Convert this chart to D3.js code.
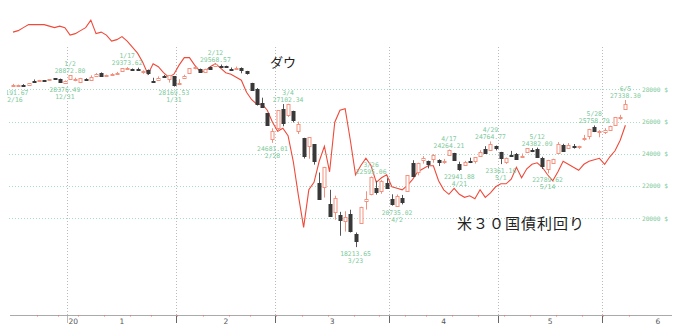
<!DOCTYPE html>
<meta charset="utf-8">
<style>
  body { margin: 0; background: #fff; }
  .note { font-family: "DejaVu Sans Mono", "Liberation Mono", monospace; font-size: 6.4px; fill: #7cc99a; }
  .ylab { font-family: "DejaVu Sans Mono", "Liberation Mono", monospace; font-size: 6.2px; fill: #7cc99a; }
  .mlab { font-family: "DejaVu Sans", sans-serif; font-size: 7.5px; fill: #555; }
  .title { font-family: "Noto Sans CJK JP", sans-serif; fill: #222; }
</style>
<body>
<script src="https://cdn.jsdelivr.net/npm/d3@7"></script>
<script>
// trading days 2019/12/16 - 2020/6/5
var dates = [
  "12/16","12/17","12/18","12/19","12/20","12/23","12/24","12/26","12/27","12/30","12/31",
  "1/2","1/3","1/6","1/7","1/8","1/9","1/10","1/13","1/14","1/15","1/16","1/17","1/21","1/22","1/23","1/24","1/27","1/28","1/29","1/30","1/31",
  "2/3","2/4","2/5","2/6","2/7","2/10","2/11","2/12","2/13","2/14","2/18","2/19","2/20","2/21","2/24","2/25","2/26","2/27","2/28",
  "3/2","3/3","3/4","3/5","3/6","3/9","3/10","3/11","3/12","3/13","3/16","3/17","3/18","3/19","3/20","3/23","3/24","3/25","3/26","3/27","3/30","3/31",
  "4/1","4/2","4/3","4/6","4/7","4/8","4/9","4/13","4/14","4/15","4/16","4/17","4/20","4/21","4/22","4/23","4/24","4/27","4/28","4/29","4/30",
  "5/1","5/4","5/5","5/6","5/7","5/8","5/11","5/12","5/13","5/14","5/15","5/18","5/19","5/20","5/21","5/22","5/26","5/27","5/28","5/29",
  "6/1","6/2","6/3","6/4","6/5"
];

var open = [
  28191.67,28240.09,28283.63,28247.77,28488.71,28491.78,28572.57,28539.46,28675.34,28654.76,28414.64,
  28638.97,28553.33,28465.50,28639.18,28556.14,28851.48,29018.30,28852.19,28885.29,28939.67,29125.64,29313.31,29263.59,29251.36,29099.70,29198.92,28542.49,28598.74,28820.01,28640.16,28813.04,
  28319.65,28696.45,28990.34,29315.04,29286.92,29060.16,29390.74,29406.75,29450.85,29440.47,29279.43,29306.72,29347.24,29144.56,28402.93,28028.51,27174.77,26526.26,24902.21,
  25590.51,26762.47,26383.68,26671.92,25457.21,24992.36,24453.00,24604.63,22184.71,21973.82,20917.53,20345.92,20222.00,19830.00,20253.24,19028.36,19722.19,21050.34,21468.38,21898.47,21678.22,22208.42,
  21227.38,20819.46,21285.00,21693.63,23439.00,22897.84,23577.75,23579.41,23687.01,23605.00,23525.71,23909.29,24060.31,23342.31,23300.08,23553.56,23535.18,23892.01,24323.81,24247.12,24495.11,
  24120.78,23523.30,23905.00,23974.73,23837.68,24071.65,24260.63,24271.65,23717.97,23053.59,23442.00,24049.84,24556.55,24419.84,24512.11,24463.19,24943.93,25124.41,25656.81,25325.96,
  25342.99,25520.60,25802.82,26235.04,26818.71
];

var high = [
  28337.49,28291.01,28320.11,28377.19,28608.98,28582.49,28576.80,28621.39,28701.66,28664.69,28547.35,
  28872.80,28716.31,28708.02,28685.50,28866.18,29009.07,29048.77,28909.26,29001.39,29078.79,29301.62,29373.62,29290.73,29341.39,29178.45,29226.27,28716.09,28801.37,28892.89,28879.05,28813.04,
  28630.60,28903.28,29301.50,29379.77,29286.92,29276.82,29415.39,29568.57,29535.70,29463.52,29352.27,29409.42,29360.09,29144.56,28402.93,28078.80,27480.62,26526.26,25584.91,
  26706.17,27084.59,27102.34,26671.92,25994.38,24992.36,25020.99,24604.63,22837.95,23189.76,21768.28,21400.00,20400.00,20440.00,20531.31,19121.01,20716.98,21678.22,22595.06,22327.57,22378.09,22480.04,
  21487.89,21477.77,21447.38,22680.80,23601.00,23444.48,23856.33,23580.30,23977.75,23660.53,23683.81,24264.21,24060.31,23511.07,23559.01,23757.88,23803.13,24224.99,24474.69,24764.77,24513.07,
  24120.78,23768.65,24180.33,24050.27,24017.46,24361.15,24351.91,24382.09,23816.14,23626.66,23695.85,24725.85,24619.48,24668.24,24607.71,24501.66,25170.84,25548.27,25758.79,25472.94,
  25592.53,25742.65,26285.05,26415.17,27338.30
];

var low = [
  28191.67,28225.62,28235.59,28234.92,28455.09,28491.78,28503.21,28535.15,28608.98,28428.98,28376.49,
  28627.77,28500.36,28418.63,28565.28,28522.51,28851.48,28789.09,28819.24,28863.14,28937.23,29072.58,29289.91,29139.79,29180.85,28961.43,28890.99,28440.00,28532.58,28706.78,28418.69,28169.53,
  28319.65,28696.45,28990.34,29236.34,29056.98,29034.82,29210.58,29406.75,29383.69,29345.96,29156.74,29299.63,28991.85,28908.58,27921.20,26991.01,26939.31,25762.75,24681.01,
  25391.96,25706.28,26286.31,25943.33,25226.62,23706.07,23690.34,23328.32,21154.46,21285.37,20116.20,19908.27,18917.46,19177.00,19121.05,18213.65,19649.25,20538.34,21427.10,21469.27,21522.08,21866.05,
  20784.84,20735.02,20863.12,21693.63,22612.00,22663.97,23388.19,23095.57,23445.69,23239.60,23378.84,23909.29,23628.46,22941.88,23300.08,23426.29,23397.10,23892.01,24078.71,24246.98,24209.76,
  23361.16,23375.44,23844.03,23645.67,23746.05,24071.65,24104.85,23764.24,23055.64,22789.62,23373.13,24049.84,24193.71,24419.84,24320.66,24299.17,24812.14,24897.76,25345.48,25025.48,
  25225.55,25460.03,25802.82,26106.86,26818.71
];

var close = [
  28235.89,28267.16,28239.28,28376.96,28455.09,28551.53,28515.45,28621.39,28645.26,28462.14,28538.44,
  28868.80,28634.88,28703.38,28583.68,28745.09,28956.90,28823.77,28907.05,28939.67,29030.22,29297.64,29348.10,29196.04,29186.27,29160.09,28989.73,28535.80,28722.85,28734.45,28859.44,28256.03,
  28399.81,28807.63,29290.85,29379.77,29102.51,29276.82,29276.34,29551.42,29423.31,29398.08,29232.19,29348.03,29219.98,28992.41,27960.80,27081.36,26957.59,25766.64,25409.36,
  26703.32,25917.41,27090.86,26121.28,25864.78,23851.02,25018.16,23553.22,21200.62,23185.62,20188.52,21237.38,19898.92,20087.19,19173.98,18591.93,20704.91,21200.55,22552.17,21636.78,22327.48,21917.16,
  20943.51,21413.44,21052.53,22679.99,22653.86,23433.57,23719.37,23390.77,23949.76,23504.35,23537.68,24242.49,23650.44,23018.88,23475.82,23515.26,23775.27,24133.78,24101.55,24633.86,24345.72,
  23723.69,23749.76,23883.09,23664.64,23875.89,24331.32,24221.99,23764.78,23247.97,23625.34,23685.42,24597.37,24206.86,24575.90,24474.12,24465.16,24995.11,25548.27,25400.64,25383.11,
  25475.02,25742.65,26269.89,26281.82,27110.98
];

// US 30y treasury yield (%)
var yield30 = [
  2.29,2.30,2.32,2.34,2.34,2.34,2.34,2.33,2.32,2.33,2.32,
  2.27,2.28,2.30,2.32,2.37,2.28,2.29,2.27,2.23,2.24,2.26,2.23,2.19,2.15,2.09,2.01,2.08,2.06,2.02,1.99,2.01,
  2.07,2.12,2.12,2.07,2.03,2.03,2.06,2.08,2.05,2.02,2.01,1.99,1.97,1.89,1.84,1.81,1.81,1.77,1.69,
  1.63,1.65,1.60,1.43,1.20,0.99,1.24,1.29,1.43,1.53,1.36,1.69,1.77,1.78,1.57,1.34,1.40,1.45,1.40,1.29,1.32,1.34,
  1.26,1.25,1.24,1.27,1.31,1.36,1.38,1.40,1.40,1.30,1.24,1.21,1.25,1.21,1.19,1.20,1.18,1.24,1.19,1.22,1.26,
  1.28,1.28,1.31,1.39,1.32,1.38,1.41,1.42,1.39,1.34,1.30,1.36,1.43,1.41,1.39,1.37,1.41,1.43,1.44,1.45,
  1.41,1.46,1.50,1.57,1.67
];

var highMarks = ["1/2","1/17","2/12","3/4","3/26","4/17","4/29","5/12","5/28","6/5"];
var lowMarks = ["12/16","12/31","1/31","2/28","3/23","4/2","4/21","5/1","5/14"];
var dowTicks = [20000, 22000, 24000, 26000, 28000];
var monthNames = ["20","1","2","3","4","5","6"];

var width = 689, height = 332;
var svg = d3.select("body").append("svg")
    .attr("width", width)
    .attr("height", height);

var N = dates.length;
var x = d3.scaleLinear().domain([0, N - 1]).range([13, 625.4]);
var y = d3.scaleLinear().domain([20000, 28000]).range([218.3, 89.3]);
var y2 = d3.scaleLinear().domain([0, 2.5]).range([376, 0.6]);

svg.append("clipPath").attr("id", "clip")
  .append("rect").attr("x", 7).attr("y", 0).attr("width", width).attr("height", height);

// horizontal grid + right labels
svg.selectAll(".hgrid")
    .data(dowTicks)
  .enter().append("line")
    .attr("x1", 9).attr("x2", 640)
    .attr("y1", function(d) { return Math.round(y(d)) + 0.5; })
    .attr("y2", function(d) { return Math.round(y(d)) + 0.5; })
    .attr("stroke", "#a9dcc6")
    .attr("stroke-dasharray", "1,2");

svg.selectAll(".ylab")
    .data(dowTicks)
  .enter().append("text")
    .attr("class", "ylab")
    .attr("x", 668)
    .attr("y", function(d) { return y(d) + 2.3; })
    .attr("text-anchor", "end")
    .text(function(d) { return d + " $"; });

// month boundaries
var monthStarts = [];
for (var i = 1; i < N; i++) {
  if (dates[i].split("/")[0] != dates[i - 1].split("/")[0]) monthStarts.push(i);
}
var monthSpan = 21.5;

svg.selectAll(".vgrid")
    .data(monthStarts)
  .enter().append("line")
    .attr("x1", function(d) { return Math.round(x(d - 0.5)) + 0.5; })
    .attr("x2", function(d) { return Math.round(x(d - 0.5)) + 0.5; })
    .attr("y1", 47).attr("y2", 315)
    .attr("stroke", "#bbb")
    .attr("stroke-dasharray", "1,2");

// x axis
svg.append("line")
    .attr("x1", 10).attr("x2", 672)
    .attr("y1", 315.5).attr("y2", 315.5)
    .attr("stroke", "#aaa");

svg.selectAll(".tick")
    .data(monthStarts)
  .enter().append("line")
    .attr("x1", function(d) { return Math.round(x(d - 0.5)) + 0.5; })
    .attr("x2", function(d) { return Math.round(x(d - 0.5)) + 0.5; })
    .attr("y1", 316).attr("y2", 323)
    .attr("stroke", function(d, i) { return i == 0 ? "#bbb" : "#666"; });

// weekly markers
var weekStarts = [];
function toDate(s, i) {
  var p = s.split("/");
  return new Date(i < 11 ? 2019 : 2020, +p[0] - 1, +p[1]);
}
for (var i = 1; i < N; i++) {
  if (toDate(dates[i], i).getDay() < toDate(dates[i - 1], i - 1).getDay()) weekStarts.push(i);
}
weekStarts.push(N);
svg.selectAll(".wk")
    .data(weekStarts)
  .enter().append("rect")
    .attr("x", function(d) { return Math.round(x(d)) - 2; })
    .attr("y", 315)
    .attr("width", 1).attr("height", 1.5)
    .attr("fill", "#f07a68");

// month labels
var labelPos = monthStarts.map(function(s, k) {
  var e = k + 1 < monthStarts.length ? monthStarts[k + 1] : s + monthSpan;
  return (s + e - 1) / 2;
});
svg.append("text")
    .attr("class", "mlab")
    .attr("x", x(monthStarts[0] - 0.5) + 1)
    .attr("y", 323.5)
    .text(monthNames[0]);
svg.selectAll(".mlabel")
    .data(labelPos)
  .enter().append("text")
    .attr("class", "mlab")
    .attr("x", function(d) { return x(d); })
    .attr("y", 323.5)
    .attr("text-anchor", "middle")
    .text(function(d, i) { return monthNames[i + 1]; });

// yield line
var line = d3.line()
    .x(function(d, i) { return x(i); })
    .y(function(d) { return y2(d); });
svg.append("path")
    .datum(yield30)
    .attr("d", line)
    .attr("fill", "none")
    .attr("stroke", "#ef4a3a")
    .attr("stroke-width", 1.1);

// candles
var idx = d3.range(N);
var candles = svg.append("g").attr("clip-path", "url(#clip)");
candles.selectAll(".wick")
    .data(idx)
  .enter().append("line")
    .attr("x1", function(i) { return Math.round(x(i)) + 0.5; })
    .attr("x2", function(i) { return Math.round(x(i)) + 0.5; })
    .attr("y1", function(i) { return y(high[i]); })
    .attr("y2", function(i) { return y(low[i]); })
    .attr("stroke", function(i) { return close[i] >= open[i] ? "#f3917f" : "#555"; });

candles.selectAll(".body")
    .data(idx)
  .enter().append("rect")
    .attr("x", function(i) { return Math.round(x(i)) - 1; })
    .attr("y", function(i) { return Math.round(y(Math.max(open[i], close[i]))) + 0.5; })
    .attr("width", 3)
    .attr("height", function(i) { return Math.max(1, Math.round(Math.abs(y(open[i]) - y(close[i])))); })
    .attr("fill", function(i) { return close[i] >= open[i] ? "#fff" : "#383838"; })
    .attr("stroke", function(i) { return close[i] >= open[i] ? "#f3917f" : "#383838"; });

// high / low notes
var notes = svg.append("g").attr("clip-path", "url(#clip)");
highMarks.forEach(function(m) {
  var i = dates.indexOf(m);
  notes.append("text").attr("class", "note").attr("text-anchor", "middle")
    .attr("x", x(i)).attr("y", y(high[i]) - 9).text(m);
  notes.append("text").attr("class", "note").attr("text-anchor", "middle")
    .attr("x", x(i)).attr("y", y(high[i]) - 2).text(high[i].toFixed(2));
});
lowMarks.forEach(function(m) {
  var i = dates.indexOf(m);
  notes.append("text").attr("class", "note").attr("text-anchor", "middle")
    .attr("x", x(i)).attr("y", y(low[i]) + 8.5).text(low[i].toFixed(2));
  notes.append("text").attr("class", "note").attr("text-anchor", "middle")
    .attr("x", x(i)).attr("y", y(low[i]) + 15.5).text(m);
});

// titles
svg.append("text")
    .attr("class", "title")
    .attr("x", 270).attr("y", 67)
    .style("font-size", "13px")
    .text("ダウ");
svg.append("text")
    .attr("class", "title")
    .attr("x", 457).attr("y", 229)
    .style("font-size", "15px")
    .style("letter-spacing", "1px")
    .text("米３０国債利回り");
</script>
